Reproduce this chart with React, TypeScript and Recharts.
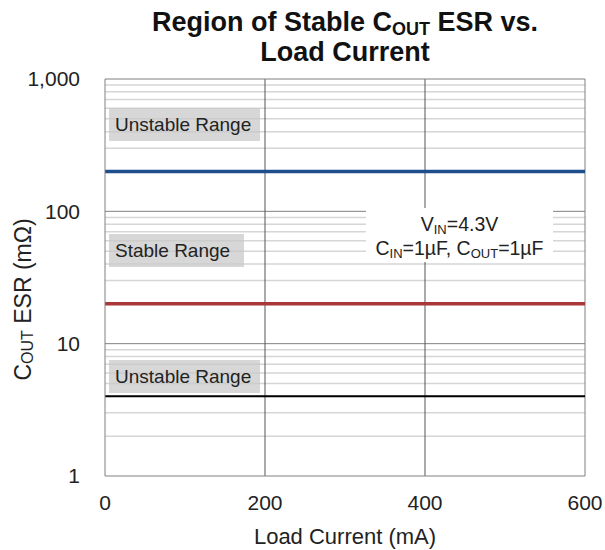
import React from 'react';
import {
  LineChart, Line, XAxis, YAxis, CartesianGrid, ReferenceLine, Label
} from 'recharts';

// load current points (mA) spanning the axis
const loadCurrent = [0, 600];
// ESR boundaries (mOhm)
const upperLimit = [200, 200];
const stableLimit = [20, 20];
const lowerLimit = [4, 4];

const xTicks = [0, 200, 400, 600];
const yTicks = [1, 10, 100, 1000];
const majorGrid = [10, 100];
const minorGrid = [2, 3, 4, 5, 6, 7, 8, 9, 20, 30, 40, 50, 60, 70, 80, 90, 200, 300, 400, 500, 600, 700, 800, 900];

const chartData = loadCurrent.map((x, i) => ({
  x,
  upper: upperLimit[i],
  stable: stableLimit[i],
  lower: lowerLimit[i],
}));

const FONT = '"Liberation Sans", Arial, sans-serif';

const formatTick = (v: number) => v.toLocaleString('en-US');

const YTitle = (props: any) => {
  const { viewBox } = props;
  const cx = 23;
  const cy = viewBox.y + viewBox.height / 2 + 22;
  return (
    <text
      x={cx}
      y={cy}
      transform={`rotate(-90, ${cx}, ${cy})`}
      textAnchor="middle"
      dominantBaseline="central"
      fontFamily={FONT}
      fontSize={23}
      fill="#222"
    >
      C<tspan fontSize={16} dy={4}>OUT</tspan>
      <tspan dy={-4}> ESR (mΩ)</tspan>
    </text>
  );
};

const XTitle = (props: any) => {
  const { viewBox } = props;
  return (
    <text
      x={viewBox.x + viewBox.width / 2}
      y={544}
      textAnchor="middle"
      fontFamily={FONT}
      fontSize={22}
      fill="#222"
    >
      Load Current (mA)
    </text>
  );
};

const rangeBox: React.CSSProperties = {
  position: 'absolute',
  background: 'rgba(200,200,200,0.72)',
  fontFamily: FONT,
  fontSize: 19,
  color: '#222',
  padding: '0 6px',
  lineHeight: '33px',
  whiteSpace: 'nowrap',
  boxSizing: 'border-box',
};

const subStyle = (size: number, drop: number): React.CSSProperties => ({
  fontSize: size,
  verticalAlign: -drop,
  lineHeight: 0,
});

const App: React.FC = () => {
  return (
    <div style={{ position: 'absolute', left: 0, top: 0, width: 605, height: 550, background: '#fff' }}>
      <div
        style={{
          position: 'absolute', left: 0, top: 7, width: 605, textAlign: 'center',
          fontFamily: FONT, fontWeight: 'bold', fontSize: 27, lineHeight: '30px', color: '#111',
        }}
      >
        <div style={{ paddingLeft: 85 }}>
          Region of Stable C<sub style={subStyle(18, 4)}>OUT</sub> ESR vs.
        </div>
        <div style={{ paddingLeft: 85 }}>Load Current</div>
      </div>

      <LineChart
        width={605}
        height={550}
        data={chartData}
        margin={{ top: 79, right: 20, bottom: 44, left: 0 }}
        style={{ position: 'absolute', left: 0, top: 0 }}
      >
        <CartesianGrid horizontal={false} vertical={false} />
        {minorGrid.map((v) => (
          <ReferenceLine key={`mn${v}`} y={v} stroke="#d6d6d6" strokeWidth={1.5} />
        ))}
        {majorGrid.map((v) => (
          <ReferenceLine key={`mj${v}`} y={v} stroke="#808080" strokeWidth={1} />
        ))}
        <ReferenceLine x={200} stroke="#555" strokeWidth={1} />
        <ReferenceLine x={400} stroke="#555" strokeWidth={1} />
        <ReferenceLine y={1000} stroke="#808080" strokeWidth={1} />
        <ReferenceLine x={600} stroke="#808080" strokeWidth={1} />
        <XAxis
          type="number"
          dataKey="x"
          domain={[0, 600]}
          ticks={xTicks}
          tickLine={false}
          tickSize={0}
          axisLine={{ stroke: '#808080' }}
          tick={{ fill: '#222', fontSize: 21, fontFamily: FONT }}
          tickMargin={19}
        >
          <Label content={XTitle} />
        </XAxis>
        <YAxis
          scale="log"
          domain={[1, 1000]}
          ticks={yTicks}
          allowDataOverflow
          width={105}
          tickLine={false}
          tickSize={0}
          axisLine={{ stroke: '#808080' }}
          tickFormatter={formatTick}
          tick={{ fill: '#222', fontSize: 21, fontFamily: FONT }}
          tickMargin={25}
        >
          <Label content={YTitle} />
        </YAxis>
        <Line dataKey="upper" stroke="#1f4e8c" strokeWidth={3.5} dot={false} isAnimationActive={false} />
        <Line dataKey="stable" stroke="#a93838" strokeWidth={3.5} dot={false} isAnimationActive={false} />
        <Line dataKey="lower" stroke="#000" strokeWidth={2} dot={false} isAnimationActive={false} />
      </LineChart>

      <div style={{ ...rangeBox, left: 109, top: 108, width: 151 }}>Unstable Range</div>
      <div style={{ ...rangeBox, left: 109, top: 234, width: 135 }}>Stable Range</div>
      <div style={{ ...rangeBox, left: 109, top: 360, width: 151 }}>Unstable Range</div>

      <div
        style={{
          position: 'absolute', left: 366, top: 208, width: 187, height: 54, background: '#fff',
          fontFamily: FONT, fontSize: 19.5, color: '#222', textAlign: 'center', lineHeight: '23px',
          paddingTop: 5, boxSizing: 'border-box', whiteSpace: 'nowrap',
        }}
      >
        <div>
          V<sub style={subStyle(13, 3)}>IN</sub>=4.3V
        </div>
        <div style={{ marginTop: 1 }}>
          C<sub style={subStyle(13, 3)}>IN</sub>=1µF, C<sub style={subStyle(13, 3)}>OUT</sub>=1µF
        </div>
      </div>
    </div>
  );
};

export default App;
